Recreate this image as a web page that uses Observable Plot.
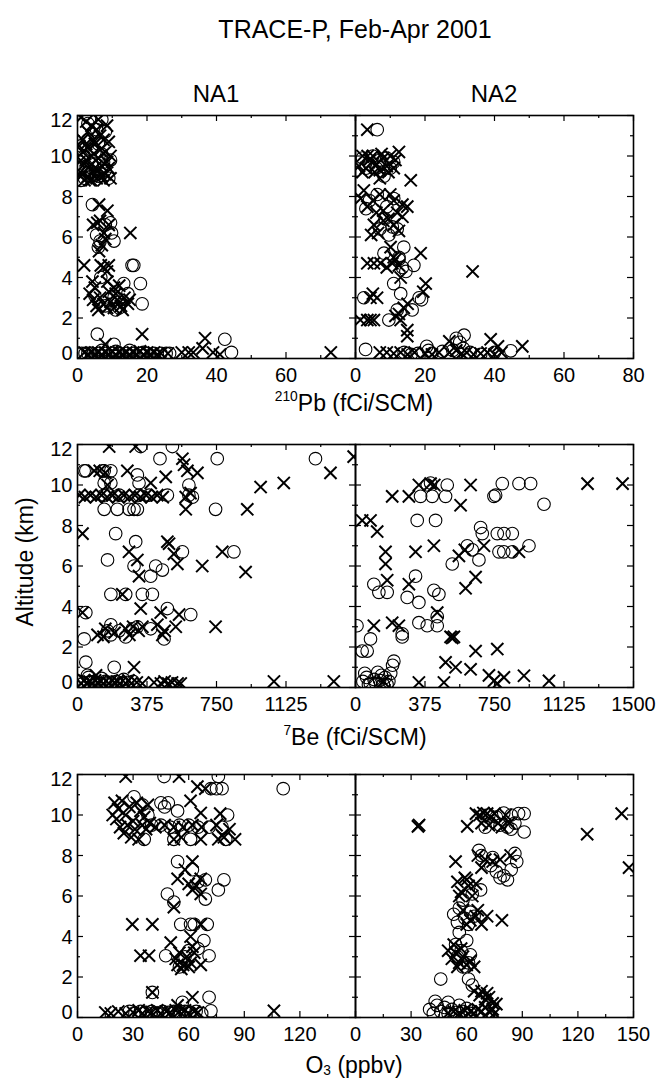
<!DOCTYPE html>
<html><head><meta charset="utf-8">
<script src="https://cdn.jsdelivr.net/npm/d3@7"></script>
<script src="https://cdn.jsdelivr.net/npm/@observablehq/plot@0.6"></script>
<style>
body{margin:0;background:#fff;}
#fig{position:relative;width:666px;height:1082px;overflow:hidden;background:#fff;font-family:"Liberation Sans",Arial,Helvetica,sans-serif;color:#000;}
.lbl{position:absolute;white-space:nowrap;line-height:1;transform:translateX(-50%);}
.sup{position:relative;font-size:0.6em;top:-0.72em;line-height:1;}
.sub{position:relative;font-size:0.6em;top:0.2em;line-height:1;}
.pl{position:absolute;}
</style></head><body><div id="fig"></div><script>
// ---------- tick values ----------
const altTicks = [0, 2, 4, 6, 8, 10, 12];
const altMinor = [1, 3, 5, 7, 9, 11];
const pbTicks = [0, 20, 40, 60, 80];
const pbMinor = [10, 30, 50, 70];
const beTicks = [0, 375, 750, 1125, 1500];
const beMinor = [187.5, 562.5, 937.5, 1312.5];
const o3Ticks = [0, 30, 60, 90, 120, 150];
const o3Minor = [15, 45, 75, 105, 135];

// ---------- 210Pb, NA1 ----------
const pbNA1_o = [[7,11.8],[5.5,11.3],[8,11.2],[3,11.6],
 [1,10.5],[2,10.0],[1,9.4],[3,9.2],[4,10.3],[5,9.6],[6,9.0],[2,8.9],[7,10.1],[8,9.3],[9,8.9],[3,10.8],[6,10.6],[1,8.8],[9.5,9.8],[4,9.0],[2.5,9.5],[5,10.2],[7.5,9.7],
 [4.3,7.6],[9.5,6.7],[5.5,6.1],[6.5,5.8],[10.5,5.8],[6,5.5],[8,6.6],[9.8,6.2],
 [15.7,4.6],[16.2,4.6],[6.7,4.0],
 [13.3,3.7],[18.1,3.7],[10.5,3.0],[18.6,2.7],[8,2.6],[12,2.5],[14.5,3.2],[5,3.1],[11,2.4],
 [5.7,1.2],[10.5,0.7],[42.4,0.95],[44.3,0.3],
 [1.2,0.25],[2.2,0.25],[3,0.25],[4,0.25],[6,0.25],[8,0.25],[10,0.25],[12,0.25],[14,0.25],[16,0.25],[18,0.25],[20,0.25],[22,0.25],[24,0.25],[25.5,0.25],[26.5,0.25],[11,0.35],[15,0.4],[19,0.3],[7,0.4]];
const pbNA1_x = [[1,11.9],[2.5,11.7],[4,11.5],[5.5,11.3],[6.5,11.0],[7.5,10.8],[9,10.7],[3,11.2],[8.5,11.5],[6,11.8],
 [0.5,10.5],[1.5,10.2],[2.5,9.8],[3.5,9.5],[4.5,9.2],[5.5,8.9],[1,9.0],[2,9.6],[3,10.4],[4,10.0],[5,10.6],[6,9.9],[7,9.5],[8,9.1],[9,9.4],[9.5,8.9],[7.5,8.8],[6.5,10.3],[8,10.2],[9.5,10.0],[0.5,9.7],[2,8.8],[4,8.8],[5,9.4],[3,9.0],
 [1.5,10.8],[2.5,10.6],[4.5,10.8],[0.8,9.2],[6,9.3],[7,9.0],[8.5,9.7],[3.5,8.8],
 [6.2,7.6],[8.6,7.3],[5.7,6.7],[4.5,6.6],[7.6,6.2],[6.5,6.8],[8,5.9],[7,5.6],[15.2,6.2],[9,6.6],[6.2,5.3],
 [1.9,4.6],[6.7,4.6],[9,4.6],[7.5,4.5],[8.5,4.3],
 [4.3,3.8],[8.6,3.8],[10.5,3.5],[3.5,3.2],[4.5,2.9],[5.5,2.6],[6.5,3.0],[7.5,2.7],[8.5,2.5],[9.5,2.8],[10.5,2.5],[11.5,2.9],[12.5,2.6],[13.5,3.0],[14.5,2.7],[15,2.9],[6,2.4],[11,3.2],[13,2.4],[9,3.3],[5,3.5],[12,3.6],
 [18.6,1.2],[36.7,1.0],[8,0.7],
 [3,0.2],[5,0.2],[7,0.2],[9,0.2],[11,0.2],[13,0.2],[15,0.2],[17,0.2],[19,0.2],[21,0.2],[23,0.2],[14,0.3],[18,0.35],[10,0.35],
 [2,0.3],[4,0.3],[6,0.3],[8,0.3],[12,0.3],[16,0.3],[20,0.3],[22,0.3],[24,0.25],[26,0.25],
 [30,0.3],[32,0.3],[33.3,0.3],[36,0.5],[39,0.3],[41,0.2],[72.9,0.3]];

// ---------- 210Pb, NA2 ----------
const pbNA2_o = [[6.25,11.3],
 [2,9.9],[4,9.6],[5,10.0],[6,9.4],[7,9.8],[8,9.5],[9,9.9],[10,9.4],[11,9.7],[3,9.4],[8.2,9.0],
 [6.25,8.1],[9,7.5],[4,7.8],[11,7.9],[3,7.4],
 [8.5,6.9],[10.6,6.5],[9.6,6.1],[12,6.4],[7,6.4],
 [13.9,5.5],[8.2,5.2],[12.5,5.0],
 [12.5,4.9],[13.5,4.5],[16.8,4.6],[14.5,4.3],
 [11,3.7],[2.4,3.0],[13,3.2],[18.3,3.0],[19,2.9],
 [12,2.4],[16.3,2.4],[9.6,1.9],
 [31.25,1.15],[29,1.0],[20.5,0.6],[30,0.8],
 [2.9,0.45],[14,0.3],[16,0.2],[21,0.4],[22,0.25],[25,0.35],[28,0.4],[31,0.5],[33,0.3],[36,0.2],[40,0.3],[44.7,0.38],[18,0.25]];
const pbNA2_x = [[3.4,11.3],
 [1,9.5],[2,10.0],[3,9.4],[4,9.8],[5,10.0],[6,9.6],[7,9.3],[8,9.9],[9,9.5],[10,10.0],[11,9.4],[12.5,10.2],[5.5,9.2],[7.5,10.1],[3.5,10.0],[9.5,9.2],[11.5,9.8],[2,9.2],
 [15.9,8.8],[7,8.9],
 [2.4,8.3],[7,8.1],[11,7.8],[14.9,7.5],[3.4,7.5],[5,7.8],[8,7.3],[12,7.2],[13.5,7.6],[1.5,7.9],[10,8.1],[6,7.2],
 [5.3,6.6],[13.5,7.0],[6.5,6.2],[8,6.8],[11,6.6],[4.5,6.1],[12.5,6.3],[9.5,6.9],
 [10.1,5.5],[11,5.0],[18.75,5.2],
 [3.4,4.7],[5.3,4.7],[7.2,4.7],[10.6,4.7],[12.5,4.6],[11.5,4.9],[9,4.5],[33.7,4.3],
 [20.2,3.7],[13,4.0],
 [4.3,3.0],[6.2,3.0],[5,3.2],[19.5,3.3],
 [13.9,2.5],[15,2.7],[12.5,2.2],
 [1.4,1.9],[3.4,1.9],[5.3,1.9],[4.3,1.9],[13,1.9],[11.5,2.1],
 [14.9,1.4],[14.9,1.1],[38.9,0.95],[27,0.85],[41,0.6],
 [7,0.3],[9,0.3],[11,0.25],[13,0.3],[15,0.2],[17,0.3],[20,0.25],[22,0.2],[24,0.3],[27,0.3],[29,0.4],[30.5,0.25],[32,0.3],[34,0.2],[36,0.25],[38,0.3],[40,0.2],[42,0.3],[48,0.6]];

// ---------- 7Be, NA1 ----------
const beNA1_o = [[341,11.9],[512,11.9],[445,11.3],[754,11.3],[1284,11.3],
 [36,10.7],[45,10.7],[135,10.7],[144,10.7],[180,10.7],[601,10.0],
 [144,10.1],[180,10.1],[332,10.1],[323,10.5],
 [144,9.5],[225,9.5],[332,9.5],[386,9.5],[485,9.5],[601,9.5],[620,9.4],
 [144,8.8],[215,8.8],[278,8.8],[305,8.8],[323,8.8],[745,8.8],
 [206,7.6],[314,7.2],[566,6.7],[844,6.7],[162,6.3],[305,6.0],[422,6.0],[458,5.8],[395,5.5],
 [180,4.6],[260,4.6],[350,4.6],[404,4.6],
 [45,3.7],[485,3.9],[611,3.6],
 [36,2.4],[162,2.8],[224,2.8],[296,2.9],[323,3.0],[467,2.4],[180,3.1],[260,2.5],[395,2.9],[180,2.6],
 [45,1.25],[198,1.0],[54,0.6],
 [10,0.3],[30,0.2],[60,0.25],[90,0.3],[120,0.2],[150,0.3],[180,0.25],[210,0.3],[240,0.2],[270,0.25],[300,0.3],[60,0.5],[130,0.45],[250,0.4]];
const beNA1_x = [[171,11.9],[314,11.9],[566,11.3],[1490,11.4],[1365,10.6],[1113,10.1],[988,9.9],
 [90,10.7],[120,10.7],[150,10.6],[269,10.7],[476,10.4],[593,10.7],[647,10.6],[575,11.0],[395,10.1],[162,10.0],
 [10,9.5],[40,9.4],[70,9.5],[100,9.4],[130,9.5],[160,9.4],[190,9.5],[220,9.4],[250,9.5],[280,9.4],[310,9.5],[340,9.4],[370,9.5],[400,9.4],[430,9.5],[460,9.4],[584,9.4],[610,9.6],
 [584,8.8],[916,8.8],
 [27,7.6],[485,7.2],[278,6.7],[494,7.1],[781,6.7],[323,6.3],[539,6.1],[673,6.0],[907,5.7],[332,5.5],[520,6.6],
 [242,4.6],
 [27,3.7],[341,3.9],[449,3.7],[548,3.6],
 [108,2.6],[150,2.9],[200,2.7],[260,2.9],[300,3.0],[330,2.8],[350,3.0],[140,2.5],[458,2.6],[431,3.1],[530,3.0],[745,3.0],[470,2.8],[280,2.6],
 [305,1.0],[100,0.6],
 [20,0.2],[50,0.2],[80,0.2],[110,0.25],[140,0.2],[170,0.2],[200,0.25],[230,0.2],[260,0.2],[290,0.2],[320,0.25],[350,0.2],
 [35,0.35],[65,0.3],[95,0.35],[125,0.3],[185,0.35],[215,0.3],[275,0.35],
 [413,0.25],[450,0.2],[470,0.3],[490,0.2],[510,0.25],[540,0.2],[557,0.2],[1060,0.3],[1383,0.3]];

// ---------- 7Be, NA2 ----------
const beNA2_o = [[351,9.44],[414,9.44],[486,9.44],[387,10.0],[495,10.0],[405,10.1],[747,9.44],[756,9.5],[792,10.07],[882,10.07],[945,10.07],[1017,9.05],
 [333,8.25],[432,8.25],
 [675,7.9],[684,7.6],[765,7.6],[801,7.6],[846,7.6],[603,7.0],[522,6.1],[666,6.3],[774,6.7],[846,6.7],[936,7.0],[630,6.8],[800,6.7],
 [99,5.1],[126,4.7],[171,4.7],[324,5.5],[279,4.45],[342,4.2],[423,4.8],[450,4.6],
 [252,2.5],[342,3.2],[387,3.05],[441,3.05],[441,3.5],[252,2.65],
 [81,2.4],[36,1.8],[63,1.8],[8,3.05],
 [207,1.3],[200,1.1],
 [40,0.3],[60,0.5],[80,0.2],[100,0.4],[110,0.2],[130,0.35],[150,0.15],[160,0.5],[180,0.3],[120,0.75],[140,0.6],[190,0.7],[70,0.15],[170,0.15],[50,0.7]];
const beNA2_x = [[198,9.44],[288,9.44],[342,10.0],[405,10.07],[425,10.0],[621,10.0],[567,9.0],[1252,10.07],[1441,10.07],
 [36,8.25],[81,8.25],[117,7.7],
 [162,6.7],[162,6.1],[324,6.7],[423,7.0],[558,6.5],[693,7.0],[882,6.7],[590,6.8],[171,5.3],[288,5.1],[594,4.9],[648,5.45],
 [99,3.05],[198,3.2],[234,3.05],[441,3.7],
 [513,2.5],[531,2.5],[522,2.45],
 [648,1.8],[765,1.9],
 [486,1.24],[540,1.0],[621,0.9],
 [342,0.25],[477,0.25],[720,0.6],[747,0.33],[801,0.5],[909,0.58],[1044,0.33],[765,0.2],[150,0.3]];

// ---------- O3, NA1 ----------
const o3NA1_o = [[46.7,11.9],[76,11.9],[72,11.3],[75,11.3],[78,11.3],[111,11.3],
 [30.5,10.9],[36,8.8],[45,10.6],[49,10.6],[54,10.2],[47,10.4],[35,10.5],[38,10.0],
 [40,9.5],[45,9.5],[50,9.4],[55,9.5],[60,9.5],[65,9.4],[71,9.4],
 [52,8.8],[61,8.8],[81,10.0],[78,9.4],[80,8.8],
 [54,7.7],[62,7.3],[69,6.8],[79,6.8],[76,6.3],[48.5,6.1],[52,5.7],[69,5.85],[65,6.7],
 [55.7,4.6],[61,4.6],[63,4.6],[70,4.6],
 [68.2,3.8],[47.6,3.05],[71,3.05],[60,3.3],[55,2.5],[65,3.4],[58,3.0],
 [40.4,1.24],[71,1.0],[56.6,0.75],[72,0.33],
 [28,0.3],[31,0.2],[34,0.3],[37,0.25],[40,0.3],[43,0.2],[46,0.3],[49,0.25],[52,0.3],[55,0.2],[58,0.3],[61,0.25],[64,0.3],[67,0.2]];
const o3NA1_x = [[26,11.9],[54.8,11.9],[64.7,11.4],[69,11.3],
 [20,10.6],[22,10.3],[24,10.7],[26,10.0],[28,10.4],[30,9.7],[32,10.6],[34,10.2],[36,9.9],[21,9.8],[23,9.4],[25,9.1],[27,9.5],[29,8.9],[31,9.3],[33,8.8],[35,9.5],[37,9.3],[39,9.6],[38,10.5],[19,10.0],
 [42,9.4],[47,9.5],[52,9.4],[57,9.4],[62,9.5],[67,9.4],
 [52,8.8],[56,8.9],[66.5,8.8],[61,10.7],[66.5,10.1],[77,10.07],[75,9.5],[78,9.0],[82,9.3],[76,8.8],[85,8.8],[79,8.9],
 [62,7.7],[58,7.3],[54,6.85],[66.5,6.85],[62,6.3],[66.5,6.1],[52,5.45],[60,6.6],[64,6.5],
 [29.6,4.6],[40.4,4.6],[66.5,4.6],
 [50.3,3.7],[61,4.0],[34,3.05],[38.6,3.05],[53,2.9],[55,3.2],[57,2.6],[59,3.0],[61,2.7],[63,3.2],[56,2.4],[60,2.5],[66.5,2.6],[62,3.5],[54,2.6],
 [40.4,1.24],[62,1.0],[54,0.6],
 [15,0.25],[18,0.2],[22,0.3],[26,0.2],[30,0.25],[35,0.2],[40,0.25],[45,0.2],[50,0.25],[55,0.3],[60,0.2],[65,0.25],
 [33,0.35],[38,0.3],[43,0.35],[48,0.3],[53,0.35],[58,0.35],[63,0.3],[106,0.33]];

// ---------- O3, NA2 ----------
const o3NA2_o = [[72,10.0],[76,9.9],[80,10.1],[84,10.0],[88,10.07],[91,10.07],[78,9.5],[82,9.4],[86,9.6],[91,9.16],[70,9.4],[84,9.3],
 [66.6,8.25],[68,8.0],[73,7.5],[76,7.2],[80,7.0],[84,7.3],[87,7.7],[78,6.9],[82,6.8],[74,7.9],[86,8.1],
 [67.5,6.3],[63,6.1],[58,5.8],
 [53,5.1],[56,5.4],[59,4.9],[62,5.2],[55,4.7],[61,4.6],[64,5.0],
 [54,3.6],[57,3.3],[60,3.8],[62,3.1],[55,3.0],[58,2.5],[61,2.7],[56,4.2],
 [46,1.9],[61,1.9],[63,1.6],
 [40,0.4],[42,0.2],[44,0.6],[46,0.3],[48,0.5],[50,0.2],[52,0.4],[54,0.25],[56,0.6],[58,0.3],[60,0.45],[62,0.2],[43,0.8],[50,0.75]];
const o3NA2_x = [[33.7,9.44],[34.3,9.5],[60.3,9.44],[125,9.05],[143.6,10.07],[147.6,7.4],
 [65,10.07],[67,10.0],[69,10.1],[71,10.07],[73,9.9],[75,10.07],[77,9.6],[79,9.4],[81,10.0],[83,9.6],[68,9.6],[72,9.5],
 [66,8.0],[70,7.8],[74,7.7],[78,7.8],[83.7,8.0],[54,7.7],[68,7.4],
 [55,6.7],[57,6.2],[59,6.9],[61,6.5],[63,6.0],[65,6.6],[56,6.0],[60,6.8],
 [58,5.3],[62,4.8],[65,5.0],[68,4.6],[71,5.0],[79,4.8],[66,5.3],[60,4.6],
 [50,3.3],[52,2.9],[54,3.2],[56,2.7],[58,3.0],[60,2.6],[62,2.8],[64,2.5],[55,2.5],[53,3.6],[57,3.4],
 [64,1.3],[67,1.1],[70,0.9],[72,1.0],[74,0.7],[76,0.66],[68,1.3],[71,1.2],
 [50,0.2],[53,0.3],[56,0.2],[59,0.35],[62,0.3],[64,0.2],[66,0.4],[68,0.3],[70,0.5],[72,0.3],[74,0.4],[75,0.2]];

// ---------- layout ----------
const FONT = '"Liberation Sans", Arial, Helvetica, sans-serif';
const W = 278, H = 243, MT = 10, MB = 40;
const fig = document.getElementById("fig");

function panel(circles, crosses, xmax, ticks, minor, isLeft, panelTop) {
  const ml = isLeft ? 77 : 20, mr = isLeft ? 12 : 33;
  const xLabels = isLeft ? ticks.slice(0, -1) : ticks;
  const marks = [
    Plot.dot(circles, {x: d => d[0], y: d => d[1], symbol: "circle", r: 6.3, stroke: "black", strokeWidth: 1.1, fill: "none", clip: true}),
    Plot.dot(crosses, {x: d => d[0], y: d => d[1], symbol: "times", r: 5.6, stroke: "black", strokeWidth: 2, clip: true}),
    Plot.ruleX(ticks, {x: d => d, insetTop: H - 6, stroke: "black", strokeWidth: 1.2}),
    Plot.ruleX(ticks, {x: d => d, insetBottom: H - 6, stroke: "black", strokeWidth: 1.2}),
    Plot.ruleX(minor, {x: d => d, insetTop: H - 3, stroke: "black", strokeWidth: 1.2}),
    Plot.ruleX(minor, {x: d => d, insetBottom: H - 3, stroke: "black", strokeWidth: 1.2}),
    Plot.ruleY(altTicks, {y: d => d, insetRight: W - 6, stroke: "black", strokeWidth: 1.2}),
    Plot.ruleY(altTicks, {y: d => d, insetLeft: W - 6, stroke: "black", strokeWidth: 1.2}),
    Plot.ruleY(altMinor, {y: d => d, insetRight: W - 3, stroke: "black", strokeWidth: 1.2}),
    Plot.ruleY(altMinor, {y: d => d, insetLeft: W - 3, stroke: "black", strokeWidth: 1.2}),
    Plot.frame({stroke: "black", strokeWidth: 1.6}),
    Plot.text(xLabels, {x: d => d, text: d => String(d), frameAnchor: "bottom", lineAnchor: "top", dy: 9, fontSize: 20, fill: "black"})
  ];
  if (isLeft) {
    const mid = altTicks.filter(v => v !== 0 && v !== 12);
    marks.push(Plot.text(mid, {y: d => d, text: d => String(d), frameAnchor: "left", textAnchor: "end", dx: -5, dy: 1, fontSize: 20, fill: "black"}));
    marks.push(Plot.text([0], {y: d => d, text: d => String(d), frameAnchor: "left", textAnchor: "end", dx: -5, dy: -5, fontSize: 20, fill: "black"}));
    marks.push(Plot.text([12], {y: d => d, text: d => String(d), frameAnchor: "left", textAnchor: "end", dx: -5, dy: 5, fontSize: 20, fill: "black"}));
  }
  const svg = Plot.plot({
    width: ml + W + mr, height: MT + H + MB,
    marginLeft: ml, marginRight: mr, marginTop: MT, marginBottom: MB,
    x: {domain: [0, xmax], axis: null},
    y: {domain: [0, 12], axis: null},
    style: {background: "transparent", fontFamily: FONT, fontSize: "20px", color: "black", overflow: "visible"},
    marks
  });
  svg.classList.add("pl");
  svg.style.left = (isLeft ? 0 : 355 - ml) + "px";
  svg.style.top = (panelTop - MT) + "px";
  svg.style.maxWidth = "none";
  fig.appendChild(svg);
}

const rows = [
  {top: 115, xmax: 80, ticks: pbTicks, minor: pbMinor, na1: [pbNA1_o, pbNA1_x], na2: [pbNA2_o, pbNA2_x]},
  {top: 444, xmax: 1500, ticks: beTicks, minor: beMinor, na1: [beNA1_o, beNA1_x], na2: [beNA2_o, beNA2_x]},
  {top: 774, xmax: 150, ticks: o3Ticks, minor: o3Minor, na1: [o3NA1_o, o3NA1_x], na2: [o3NA2_o, o3NA2_x]}
];
for (const r of rows) {
  panel(r.na1[0], r.na1[1], r.xmax, r.ticks, r.minor, true, r.top);
  panel(r.na2[0], r.na2[1], r.xmax, r.ticks, r.minor, false, r.top);
}

// ---------- text ----------
function label(html, cx, baseline, fs) {
  const d = document.createElement("div");
  d.className = "lbl";
  d.style.fontSize = fs + "px";
  d.style.left = cx + "px";
  d.style.top = (baseline - 0.8465 * fs) + "px";
  d.innerHTML = html;
  fig.appendChild(d);
}
label("TRACE-P, Feb-Apr 2001", 355, 38, 25);
label("NA1", 216, 102, 24);
label("NA2", 494, 102, 24);
label('<span class="sup">210</span>Pb (fCi/SCM)', 354, 411, 23);
label('<span class="sup">7</span>Be (fCi/SCM)', 355, 745, 23);
label('O<span class="sub">3</span> (ppbv)', 354, 1073, 23);
const yl = document.createElement("div");
yl.textContent = "Altitude (km)";
yl.style.cssText = "position:absolute;white-space:nowrap;line-height:1;font-size:23px;left:24.5px;top:562px;transform:translate(-50%,-50%) rotate(-90deg);";
fig.appendChild(yl);
</script></body></html>
